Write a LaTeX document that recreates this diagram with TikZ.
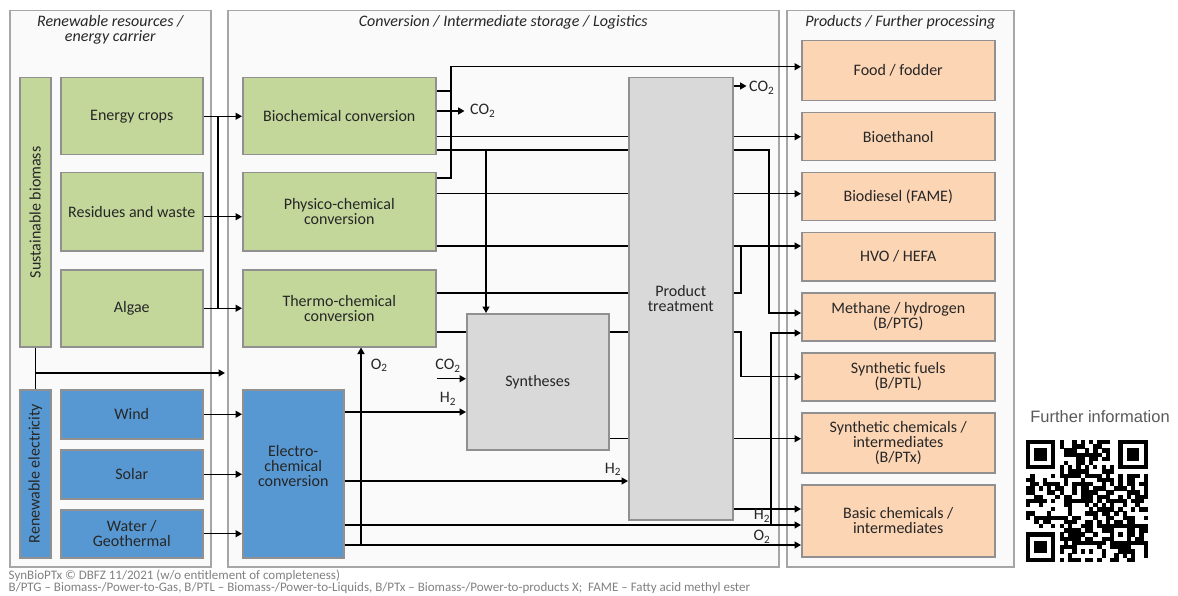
\documentclass[tikz,border=0pt]{standalone}
\usepackage{fontspec}
\setmainfont{Carlito}
\newfontfamily\infofont{Liberation Sans}
\usetikzlibrary{calc,arrows.meta}

\definecolor{panelfill}{HTML}{FAFAFA}
\definecolor{panelline}{HTML}{A6A6A6}
\definecolor{boxline}{HTML}{909090}
\definecolor{biogreen}{HTML}{C4D79B}
\definecolor{elecblue}{HTML}{5898D2}
\definecolor{prodorange}{HTML}{FCD5B5}
\definecolor{treatgray}{HTML}{D9D9D9}
\definecolor{textgray}{HTML}{262626}

\begin{document}
\begin{tikzpicture}[x=1pt, y=-1pt, line width=1.4pt, >={Triangle[length=6.5pt,width=7pt]},
  every node/.style={font=\fontsize{16}{15}\selectfont, text=textgray, align=center, inner sep=1pt},
  panel/.style={draw=panelline, fill=panelfill, line width=1.5pt, anchor=north west},
  box/.style={draw=boxline, line width=1.5pt, anchor=north west},
  bio/.style={box, fill=biogreen},
  elec/.style={box, fill=elecblue},
  treat/.style={box, fill=treatgray},
  prod/.style={box, fill=prodorange, minimum width=193},
  title/.style={font=\fontsize{16}{15}\selectfont\itshape},
  footer/.style={font=\fontsize{13}{12}\selectfont, text=black!50, anchor=west, inner sep=0pt}]
\useasboundingbox (0,0) rectangle (1178,596);

%the three columns
\node[panel, minimum width=201, minimum height=556] (respanel) at (9,10) {};
\node[panel, minimum width=551, minimum height=556] (convpanel) at (227,10) {};
\node[panel, minimum width=227, minimum height=556] (prodpanel) at (786,10) {};
\node[title] (restitle) at ($(respanel.north)+(0,20)$) {Renewable resources /\\energy carrier};
\node[title] (convtitle) at ($(convpanel.north)+(0,12)$) {Conversion / Intermediate storage / Logistics};
\node[title] (prodtitle) at ($(prodpanel.north)+(0,12)$) {Products / Further processing};

%resources
\node[bio, minimum width=31, minimum height=269] (biomass) at (19,77) {};
\node[rotate=90] (biomasstext) at (biomass) {Sustainable biomass};
\node[bio, minimum width=142, minimum height=77] (crops) at (60,77) {Energy crops};
\node[bio, minimum width=142, minimum height=78] (residues) at (60,172) {Residues and waste};
\node[bio, minimum width=142, minimum height=77] (algae) at (60,269) {Algae};
\node[elec, minimum width=31, minimum height=168] (elec) at (19,389) {};
\node[rotate=90] (electext) at (elec) {Renewable electricity};
\node[elec, minimum width=142, minimum height=49] (wind) at (60,389) {Wind};
\node[elec, minimum width=142, minimum height=49] (solar) at (60,449) {Solar};
\node[elec, minimum width=142, minimum height=48] (water) at (60,509) {Water /\\Geothermal};

%conversion
\node[bio, minimum width=193, minimum height=77] (biochem) at (242,77) {Biochemical conversion};
\node[bio, minimum width=193, minimum height=78] (physico) at (242,172) {Physico-chemical\\conversion};
\node[bio, minimum width=193, minimum height=77] (thermo) at (242,269) {Thermo-chemical\\conversion};
\node[elec, minimum width=101, minimum height=168] (electro) at (242,389) {};
\node (electrotext) at ($(electro)+(0,-8)$) {Electro-\\chemical\\conversion};
\node[treat, minimum width=142, minimum height=136] (syntheses) at (466,313) {Syntheses};
\node[treat, minimum width=104, minimum height=442] (treatment) at (628,77) {Product\\treatment};

%products
\node[prod, minimum height=60] (food) at (801,40) {Food / fodder};
\node[prod, minimum height=48] (ethanol) at (801,112) {Bioethanol};
\node[prod, minimum height=48] (diesel) at (801,172) {Biodiesel (FAME)};
\node[prod, minimum height=48] (hvo) at (801,232) {HVO / HEFA};
\node[prod, minimum height=48] (methane) at (801,292) {Methane / hydrogen\\(B/PTG)};
\node[prod, minimum height=48] (synfuel) at (801,352) {Synthetic fuels\\(B/PTL)};
\node[prod, minimum height=60] (synchem) at (801,412) {Synthetic chemicals /\\intermediates\\(B/PTx)};
\node[prod, minimum height=72] (basic) at (801,484) {Basic chemicals /\\intermediates};

%vertical lines and inlets
\coordinate (bus) at (218,0);
\coordinate (foodbus) at (451,0);
\coordinate (synbus) at (486,0);
\coordinate (obus) at (361,0);
\coordinate (hvobus) at (741,0);
\coordinate (gasbus) at (769,0);
\coordinate (hbus) at (771,0);
\coordinate (feed) at (225,373);
\coordinate (foodin) at ($(food.west)+(0,-4)$);
\coordinate (dieselin) at ($(diesel.west)+(0,-3)$);
\coordinate (hvoin) at ($(hvo.north west)+(0,14)$);
\coordinate (gasin1) at ($(methane.north west)+(0,21)$);
\coordinate (gasin2) at ($(methane.north west)+(0,41)$);
\coordinate (synchemin) at ($(synchem.west)+(0,-4)$);
\coordinate (basicin1) at ($(basic.north west)+(0,25)$);
\coordinate (basicin2) at ($(basic.north west)+(0,41)$);
\coordinate (basicin3) at ($(basic.north west)+(0,61)$);

%resources to conversion
\draw[->] (crops.east) -- (crops.east -| biochem.west);
\draw[->] ($(residues.east)+(0,5)$) -- ($(physico.west)+(0,5)$);
\draw[->] (algae.east) -- (algae.east -| thermo.west);
\draw (bus |- crops.east) -- (bus |- algae.east);
\draw (biomass.south) -- (elec.north);
\draw[->] (biomass.south |- feed) -- (feed);
\draw[->] (wind.east) -- (wind.east -| electro.west);
\draw[->] (solar.east) -- (solar.east -| electro.west);
\draw[->] (water.east) -- (water.east -| electro.west);

%biochemical
\draw ($(biochem.north east)+(0,14)$) coordinate (bc1) -- (bc1 -| foodbus);
\draw[->] ($(biochem.north east)+(0,34)$) -- ++(28,0) node[right=4pt] (co2a) {CO\textsubscript{2}};
\draw (biochem.east |- ethanol.west) -- (treatment.west |- ethanol.west);
\draw[->] (treatment.east |- ethanol.west) -- (ethanol.west);
\draw ($(biochem.north east)+(0,73)$) coordinate (bc4) -- (bc4 -| treatment.west);
\draw[->] (bc4 -| treatment.east) -| (gasbus |- gasin1) -- (gasin1);
\draw[->] (bc4 -| synbus) -- (synbus |- syntheses.north);

%physico-chemical
\draw[->] ($(physico.north east)+(0,6)$) -| (foodbus |- foodin) -- (foodin);
\draw (physico.east |- dieselin) -- (treatment.west |- dieselin);
\draw[->] (treatment.east |- dieselin) -- (dieselin);
\draw (physico.east |- hvoin) -- (treatment.west |- hvoin);
\draw[->] (treatment.east |- hvoin) -- (hvoin);

%thermo-chemical
\draw ($(thermo.north east)+(0,24)$) coordinate (tc1) -- (tc1 -| treatment.west);
\draw (tc1 -| treatment.east) -| (hvobus |- hvoin);
\draw ($(thermo.north east)+(0,63)$) coordinate (tc2) -- (tc2 -| syntheses.west);
\draw (tc2 -| syntheses.east) -- (tc2 -| treatment.west);
\draw[->] (tc2 -| treatment.east) -| (hvobus |- synfuel.west) -- (synfuel.west);

%syntheses and product treatment
\coordinate (co2in) at ($(syntheses.west)+(-29,-3)$);
\draw[->] (co2in) -- (co2in -| syntheses.west);
\node (co2b) at ($(syntheses.west)+(-18,-16)$) {CO\textsubscript{2}};
\draw (syntheses.east |- synchemin) -- (treatment.west |- synchemin);
\draw[->] (treatment.east |- synchemin) -- (synchemin);
\draw[->] ($(treatment.north east)+(0,9)$) -- ++(13,0) node[right=1pt, yshift=-2pt] (co2c) {CO\textsubscript{2}};
\draw[->] (treatment.east |- basicin1) -- (basicin1);

%electro-chemical
\draw[->] ($(electro.north east)+(0,23)$) coordinate (ec1) -- (ec1 -| syntheses.west);
\node (h2a) at ($(syntheses.north west)+(-18,86)$) {H\textsubscript{2}};
\draw[->] ($(electro.north east)+(0,92)$) coordinate (ec2) -- (ec2 -| treatment.west);
\node (h2b) at ($(treatment.south west)+(-15,-51)$) {H\textsubscript{2}};
\draw[->] (electro.east |- basicin2) -- (basicin2);
\draw[->] (hbus |- basicin2) -- (hbus |- gasin2) -- (gasin2);
\node (h2c) at ($(basic.north west)+(-39,32)$) {H\textsubscript{2}};
\draw[->] (electro.east |- basicin3) -- (basicin3);
\draw[->] (obus |- basicin3) -- (obus |- thermo.south);
\node (o2a) at ($(basic.north west)+(-39,53)$) {O\textsubscript{2}};
\node (o2b) at ($(thermo.south)+(40,18)$) {O\textsubscript{2}};

%footer
\node[footer] (credit) at (8,576) {SynBioPTx © DBFZ 11/2021 (w/o entitlement of completeness)};
\node[footer] (legend) at (8,588) {B/PTG – Biomass-/Power-to-Gas, B/PTL – Biomass-/Power-to-Liquids, B/PTx – Biomass-/Power-to-products X;\ \ FAME – Fatty acid methyl ester};

%qr code
\node[font=\infofont\fontsize{16.5}{18}\selectfont, text=black!65] (info) at (1100,417) {Further information};
\begin{scope}[shift={(1026,440)}, x=4.2pt, y=-4.2pt]
\pgfmathsetseed{1121}
\foreach \i in {0,...,28}{
  \foreach \j in {0,...,28}{
    \pgfmathtruncatemacro\qrskip{(\i<8 && \j<8) || (\i>20 && \j<8) || (\i<8 && \j>20) || (\i>19 && \i<25 && \j>19 && \j<25) || \i==6 || \j==6}
    \pgfmathtruncatemacro\qrbit{rnd<0.55}
    \ifnum\qrskip=0 \ifnum\qrbit=1 \fill (\i,\j) rectangle +(1.05,1.05);\fi\fi
  }
}
\foreach \cx/\cy in {0/0, 22/0, 0/22}{
  \fill (\cx,\cy) rectangle +(7,7);
  \fill[white] (\cx+1,\cy+1) rectangle +(5,5);
  \fill (\cx+2,\cy+2) rectangle +(3,3);
}
\fill (20,20) rectangle +(5,5);
\fill[white] (21,21) rectangle +(3,3);
\fill (22,22) rectangle +(1,1);
\foreach \k in {8,10,...,20}{
  \fill (\k,6) rectangle +(1,1);
  \fill (6,\k) rectangle +(1,1);
}
\end{scope}
\end{tikzpicture}
\end{document}
